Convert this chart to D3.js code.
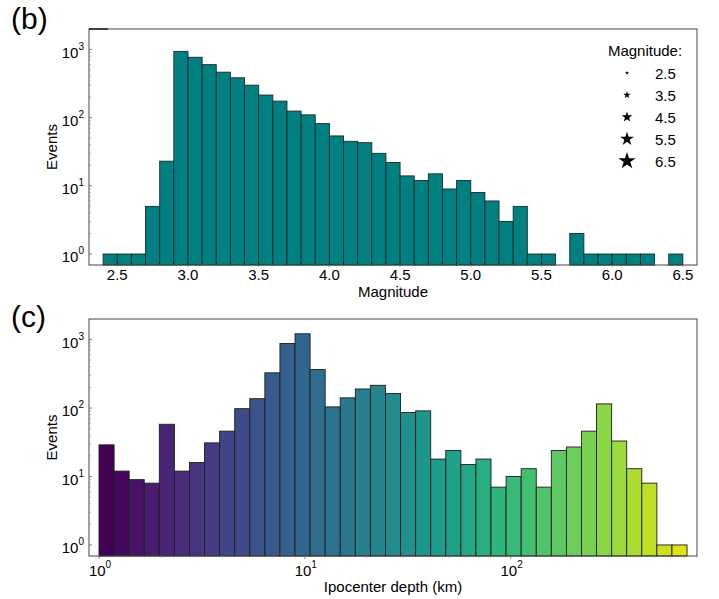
<!DOCTYPE html>
<html>
<head>
<meta charset="utf-8">
<script src="https://cdn.jsdelivr.net/npm/d3@7"></script>
<style>
  body { margin: 0; background: #fff; }
  svg text { font-family: "Liberation Sans", Arial, sans-serif; fill: #000; }
</style>
</head>
<body>
<svg id="chart" width="719" height="599"></svg>
<script>
/***** data *****/
// (b) magnitude histogram, bins of 0.1 starting at 2.4
let magBinStart = 2.4;
let magBinWidth = 0.1;
let magCounts = [1, 1, 1, 5, 23, 940, 770, 600, 465, 385, 300, 215, 175, 125, 110,
                 82, 54, 45, 43, 30, 22, 14, 12, 15, 9, 12, 8, 6, 3, 5,
                 1, 1, 0, 2, 1, 1, 1, 1, 1, 0, 1];
let magTicks = [2.5, 3.0, 3.5, 4.0, 4.5, 5.0, 5.5, 6.0, 6.5];
let legendMags = [2.5, 3.5, 4.5, 5.5, 6.5];

// (c) depth histogram, log-spaced bins from 1 km to ~720 km
let depthMin = 1;
let depthMax = 720;
let depthCounts = [29, 12, 9, 8, 58, 12, 16, 31, 46, 98, 137, 327, 877, 1216, 365,
                   104, 141, 190, 215, 163, 86, 91, 18, 24, 15, 18, 7, 10, 13, 7,
                   24, 27, 46, 115, 33, 13, 8, 1, 1];
let depthTicks = [1, 10, 100];
let eventTicks = [1, 10, 100, 1000];

/***** layout *****/
let svg = d3.select("#chart");
let left = 89, right = 697;
let panelB = {top: 29, bottom: 265};
let panelC = {top: 319, bottom: 556};
let yDomain = [0.69, 2000];

// superscript labels like 10^3
function powLabel(sel, v) {
  let e = Math.round(Math.log10(v));
  sel.append("tspan").text("10");
  sel.append("tspan").attr("dy", -8).attr("font-size", 10).text(e);
}

function drawYAxis(panel, yScale) {
  let g = svg.append("g").attr("class", "y-axis");
  g.selectAll("line.minor")
    .data(d3.range(0, 4).flatMap(p => d3.range(2, 10).map(m => m * Math.pow(10, p)))
      .filter(v => v > yDomain[0] && v < yDomain[1]))
    .join("line")
      .attr("x1", left).attr("x2", left + 2)
      .attr("y1", d => yScale(d)).attr("y2", d => yScale(d))
      .attr("stroke", "#888").attr("stroke-width", 0.6);
  g.selectAll("line.major").data(eventTicks).join("line")
      .attr("x1", left).attr("x2", left + 3)
      .attr("y1", d => yScale(d)).attr("y2", d => yScale(d))
      .attr("stroke", "#666").attr("stroke-width", 0.8);
  g.selectAll("text").data(eventTicks).join("text")
      .attr("x", 84).attr("y", d => yScale(d) + 8)
      .attr("text-anchor", "end").attr("font-size", 15)
      .each(function(d) { powLabel(d3.select(this), d); });
  svg.append("text")
    .attr("transform", `translate(57, ${(panel.top + panel.bottom) / 2}) rotate(-90)`)
    .attr("text-anchor", "middle").attr("font-size", 15)
    .text("Events");
}

function drawFrame(panel) {
  svg.append("rect")
    .attr("x", left).attr("y", panel.top)
    .attr("width", right - left).attr("height", panel.bottom - panel.top)
    .attr("fill", "none").attr("stroke", "#444").attr("stroke-width", 1);
}

/***** (b) magnitude *****/
let xMag = d3.scaleLinear().domain([2.3, 6.6]).range([left, right]);
let yB = d3.scaleLog().domain(yDomain).range([panelB.bottom, panelB.top]);

let magBins = magCounts.map((c, i) => ({
  x0: magBinStart + i * magBinWidth,
  x1: magBinStart + (i + 1) * magBinWidth,
  count: c
})).filter(d => d.count > 0);

svg.append("g").selectAll("rect").data(magBins).join("rect")
  .attr("x", d => xMag(d.x0))
  .attr("y", d => yB(d.count))
  .attr("width", d => xMag(d.x1) - xMag(d.x0))
  .attr("height", d => panelB.bottom - yB(d.count))
  .attr("fill", "#008080")
  .attr("stroke", "#1c2a2a").attr("stroke-width", 0.9);

drawFrame(panelB);
// short dark segment on the top-left of the frame
svg.append("line").attr("x1", left).attr("x2", left + 19)
  .attr("y1", panelB.top).attr("y2", panelB.top)
  .attr("stroke", "#000").attr("stroke-width", 1.2);

drawYAxis(panelB, yB);

let gxB = svg.append("g");
gxB.selectAll("line").data(magTicks).join("line")
  .attr("x1", d => xMag(d)).attr("x2", d => xMag(d))
  .attr("y1", panelB.bottom).attr("y2", panelB.bottom + 2)
  .attr("stroke", "#888").attr("stroke-width", 0.8);
gxB.selectAll("text").data(magTicks).join("text")
  .attr("x", d => xMag(d)).attr("y", panelB.bottom + 15)
  .attr("text-anchor", "middle").attr("font-size", 15)
  .text(d3.format(".1f"));
svg.append("text").attr("x", (left + right) / 2).attr("y", 297)
  .attr("text-anchor", "middle").attr("font-size", 15).text("Magnitude");

// legend
let legend = svg.append("g");
legend.append("text").attr("x", 645).attr("y", 56)
  .attr("text-anchor", "middle").attr("font-size", 15).text("Magnitude:");
let starR = d3.scaleLinear().domain([2.5, 6.5]).range([2.2, 9]);
legendMags.forEach((m, i) => {
  let cy = 73 + i * 22;
  legend.append("path")
    .attr("d", d3.symbol().type(d3.symbolStar).size(Math.pow(starR(m), 2) / 0.89)())
    .attr("transform", `translate(627, ${cy})`)
    .attr("fill", "#000");
  legend.append("text").attr("x", 655).attr("y", cy + 5.5)
    .attr("font-size", 15).text(m.toFixed(1));
});

svg.append("text").attr("x", 11).attr("y", 29).attr("font-size", 30).text("(b)");

/***** (c) depth *****/
let xDepth = d3.scaleLog().domain([0.894, 805]).range([left, right]);
let yC = d3.scaleLog().domain(yDomain).range([panelC.bottom, panelC.top]);

let nDepth = depthCounts.length;
let lMin = Math.log10(depthMin), lMax = Math.log10(depthMax);
let depthBins = depthCounts.map((c, i) => ({
  x0: Math.pow(10, lMin + (lMax - lMin) * i / nDepth),
  x1: Math.pow(10, lMin + (lMax - lMin) * (i + 1) / nDepth),
  count: c,
  idx: i
}));

svg.append("g").selectAll("rect").data(depthBins).join("rect")
  .attr("x", d => xDepth(d.x0))
  .attr("y", d => yC(d.count))
  .attr("width", d => xDepth(d.x1) - xDepth(d.x0))
  .attr("height", d => panelC.bottom - yC(d.count))
  .attr("fill", d => d3.interpolateViridis(d.idx / 40))
  .attr("stroke", "#1e1e1e").attr("stroke-width", 0.9);

drawFrame(panelC);
drawYAxis(panelC, yC);

let depthMinor = d3.range(0, 3).flatMap(p => d3.range(2, 10).map(m => m * Math.pow(10, p)))
  .filter(v => v < 805);
let gxC = svg.append("g");
gxC.selectAll("line.minor").data(depthMinor).join("line")
  .attr("x1", d => xDepth(d)).attr("x2", d => xDepth(d))
  .attr("y1", panelC.bottom).attr("y2", panelC.bottom + 2)
  .attr("stroke", "#999").attr("stroke-width", 0.6);
gxC.selectAll("line.major").data(depthTicks).join("line")
  .attr("x1", d => xDepth(d)).attr("x2", d => xDepth(d))
  .attr("y1", panelC.bottom).attr("y2", panelC.bottom + 3)
  .attr("stroke", "#777").attr("stroke-width", 0.8);
gxC.selectAll("text").data(depthTicks).join("text")
  .attr("x", d => xDepth(d) + 1).attr("y", panelC.bottom + 20)
  .attr("text-anchor", "middle").attr("font-size", 15)
  .each(function(d) { powLabel(d3.select(this), d); });
svg.append("text").attr("x", (left + right) / 2).attr("y", 592)
  .attr("text-anchor", "middle").attr("font-size", 15).text("Ipocenter depth (km)");

svg.append("text").attr("x", 11).attr("y", 327).attr("font-size", 30).text("(c)");
</script>
</body>
</html>
